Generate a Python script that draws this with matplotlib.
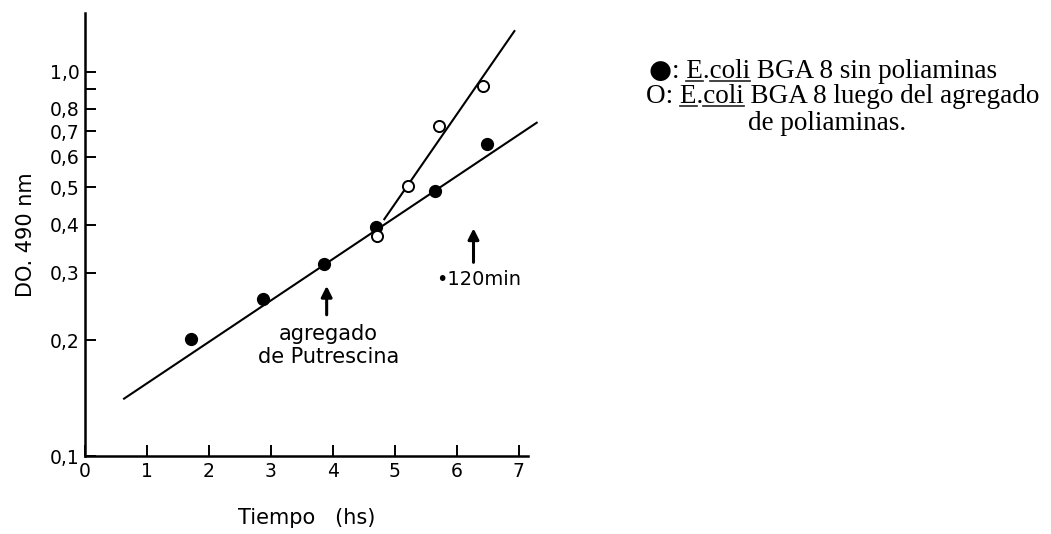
import matplotlib
matplotlib.use("Agg")
from matplotlib import pyplot as plt
from matplotlib.font_manager import FontProperties
from matplotlib.lines import Line2D
from matplotlib.ticker import NullLocator

# ── Data: E. coli BGA 8, DO 490 nm vs time ────────────────────────────────────
t_sin = [1.71, 2.87, 3.85, 4.69, 5.65, 6.49]          # sin poliaminas (filled)
do_sin = [0.202, 0.256, 0.316, 0.395, 0.490, 0.648]
t_pol = [4.71, 5.22, 5.72, 6.42]                      # con poliaminas (open)
do_pol = [0.374, 0.504, 0.723, 0.916]

# hand-drawn fit lines, end points
fit_sin_t = [0.63, 7.29]
fit_sin_do = [0.141, 0.736]
fit_pol_t = [4.83, 6.93]
fit_pol_do = [0.413, 1.274]

x_ticks = [0, 1, 2, 3, 4, 5, 6, 7]
x_labels = ["0", "1", "2", "3", "4", "5", "6", "7"]
y_ticks = [0.1, 0.2, 0.3, 0.4, 0.5, 0.6, 0.7, 0.8, 0.9, 1.0]
y_labels = ["0,1", "0,2", "0,3", "0,4", "0,5", "0,6", "0,7", "0,8", "", "1,0"]

# arrows: time, tail, head
putrescina_arrow = (3.90, 0.233, 0.277)
min120_arrow = (6.27, 0.319, 0.391)

SANS = "DejaVu Sans"
SERIF = ["Liberation Serif", "DejaVu Serif"]

fig = plt.figure(figsize=(10.51, 5.34), dpi=100)
ax = fig.add_axes([0.0809, 0.146, 0.4215, 0.8297])

ax.set_yscale("log")
ax.set_xlim(0, 7.15)
ax.set_ylim(0.1, 1.42)

# fit lines
ax.plot(fit_sin_t, fit_sin_do, color="black", lw=1.5, clip_on=False, zorder=2)
ax.plot(fit_pol_t, fit_pol_do, color="black", lw=1.5, clip_on=False, zorder=2)

# points
ax.plot(t_sin, do_sin, "o", ms=8.5, mfc="black", mec="black", zorder=3)
ax.plot(t_pol, do_pol, "o", ms=8, mfc="white", mec="black", mew=1.4, zorder=4)

# axes styling
for side in ("top", "right"):
    ax.spines[side].set_visible(False)
for side in ("left", "bottom"):
    ax.spines[side].set_linewidth(1.8)

ax.set_xticks(x_ticks, x_labels)
ax.set_yticks(y_ticks, y_labels)
ax.yaxis.set_minor_locator(NullLocator())
ax.tick_params(axis="both", which="major", direction="in", length=8, width=1.4,
               labelsize=13.5, pad=4)
for lab in ax.get_xticklabels() + ax.get_yticklabels():
    lab.set_fontfamily(SANS)

ax.set_xlabel("Tiempo   (hs)", fontsize=15, family=SANS, labelpad=20)
ax.set_ylabel("DO. 490 nm", fontsize=15, family=SANS, labelpad=10)

# annotations
arrow_kw = dict(arrowstyle="-|>", color="black", lw=2.2, mutation_scale=16,
                shrinkA=0, shrinkB=0)
t, tail, head = putrescina_arrow
ax.annotate("", xy=(t, head), xytext=(t, tail), arrowprops=arrow_kw)
ax.text(3.93, 0.220, "agregado\nde Putrescina", ha="center", va="top",
        fontsize=15, family=SANS, linespacing=1.15)

t, tail, head = min120_arrow
ax.annotate("", xy=(t, head), xytext=(t, tail), arrowprops=arrow_kw)
ax.text(6.36, 0.305, "•120min", ha="center", va="top", fontsize=14, family=SANS)

# key, written as text with underlined species name
fig.canvas.draw()
renderer = fig.canvas.get_renderer()
key_font = FontProperties(family=SERIF, size=19.5)
dot_font = FontProperties(family=SANS, size=19)
W, H = fig.bbox.width, fig.bbox.height


def text_width(s, font=key_font):
    w, _, _ = renderer.get_text_width_height_descent(s, font, ismath=False)
    return w


def key_line(x_px, base_px, line, underline=(), symbol=None):
    if symbol:
        fig.text(x_px / W, 1 - base_px / H, symbol, fontproperties=dot_font,
                 ha="left", va="baseline")
        x_px += text_width(symbol, dot_font) + 1
    fig.text(x_px / W, 1 - base_px / H, line, fontproperties=key_font,
             ha="left", va="baseline")
    for sub in underline:
        end = line.index(sub) + len(sub)
        x1 = x_px + text_width(line[:end])
        x0 = x1 - text_width(sub)
        y = 1 - (base_px + 3) / H
        fig.add_artist(Line2D([x0 / W, x1 / W], [y, y], color="#222222",
                              lw=1.2, transform=fig.transFigure))


key_line(648, 78, ": E.coli BGA 8 sin poliaminas", underline=("E", "coli"),
         symbol="●")
key_line(646, 103, "O: E.coli BGA 8 luego del agregado", underline=("E", "coli"))
key_line(748, 130, "de poliaminas.")

fig.savefig("out.png", dpi=100)
